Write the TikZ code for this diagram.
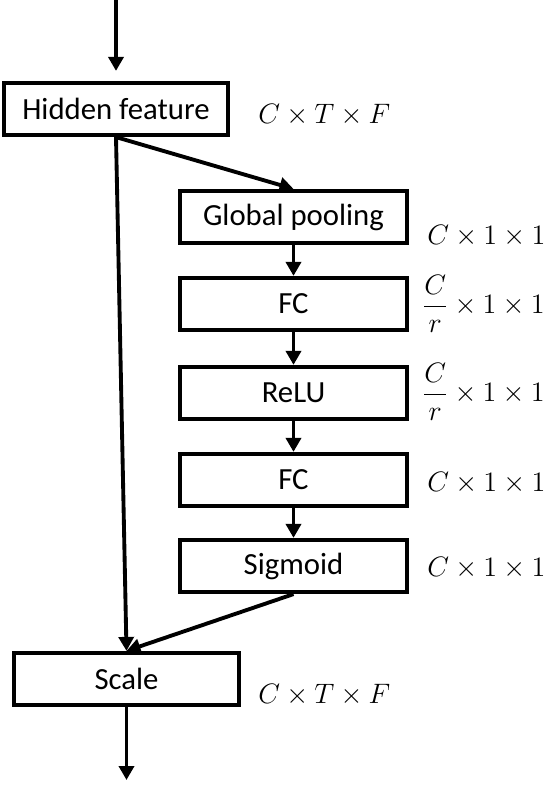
\RequirePackage{fix-cm}
\documentclass[tikz,border=0pt]{standalone}
\usepackage{amsmath}
\usepackage{fontspec}
\setmainfont{Carlito}
\usetikzlibrary{arrows.meta}
\tikzstyle{block}=[draw, rectangle, line width=2.4pt, minimum height=1.04cm, inner sep=0pt, font=\fontsize{17.5}{20}\selectfont]
\tikzstyle{edge} = [draw, line width=2.2pt, -{Triangle[length=0.28cm,width=0.3cm]}]
\tikzstyle{dim} = [anchor=west, inner sep=0pt, font=\fontsize{16}{19}\selectfont]

\begin{document}
\begin{tikzpicture}[x=0.02cm, y=-0.02cm]
    \useasboundingbox (0,0) rectangle (548,798);

    \foreach \pos/\name/\bw/\txt in {
                            {(116,109)/hidden/4.48/Hidden feature},
                            {(293.5,217)/pool/4.54/Global pooling},
                            {(293.5,304)/fc1/4.54/FC},
                            {(293.5,393)/relu/4.54/ReLU},
                            {(293.5,480)/fc2/4.54/FC},
                            {(293.5,566)/sig/4.54/Sigmoid},
                            {(126.5,679)/scale/4.5/Scale}}
        \node[block, minimum width=\bw cm] (\name) at \pos {\txt};

    \coordinate (in) at (116,0);
    \coordinate (out) at (126.5,780);

    % Connect blocks with arrows
    \path[edge, shorten >=0.2cm] (in) -- (hidden);
    \foreach \source/ \dest in {hidden/pool, pool/fc1, fc1/relu, relu/fc2, fc2/sig,
                                hidden/scale, sig/scale}
        \path[edge] (\source.south) -- (\dest.north);
    \path[edge] (scale) -- (out);

    % Tensor sizes
    \foreach \pos/\txt in {
                            {(258,115)/{$C\times T\times F$}},
                            {(427,236)/{$C\times 1\times 1$}},
                            {(422,304)/{$\dfrac{C}{r}\times 1\times 1$}},
                            {(422,392)/{$\dfrac{C}{r}\times 1\times 1$}},
                            {(427,483)/{$C\times 1\times 1$}},
                            {(427,568)/{$C\times 1\times 1$}},
                            {(258,695)/{$C\times T\times F$}}}
        \node[dim] at \pos {\txt};

\end{tikzpicture}
\end{document}
